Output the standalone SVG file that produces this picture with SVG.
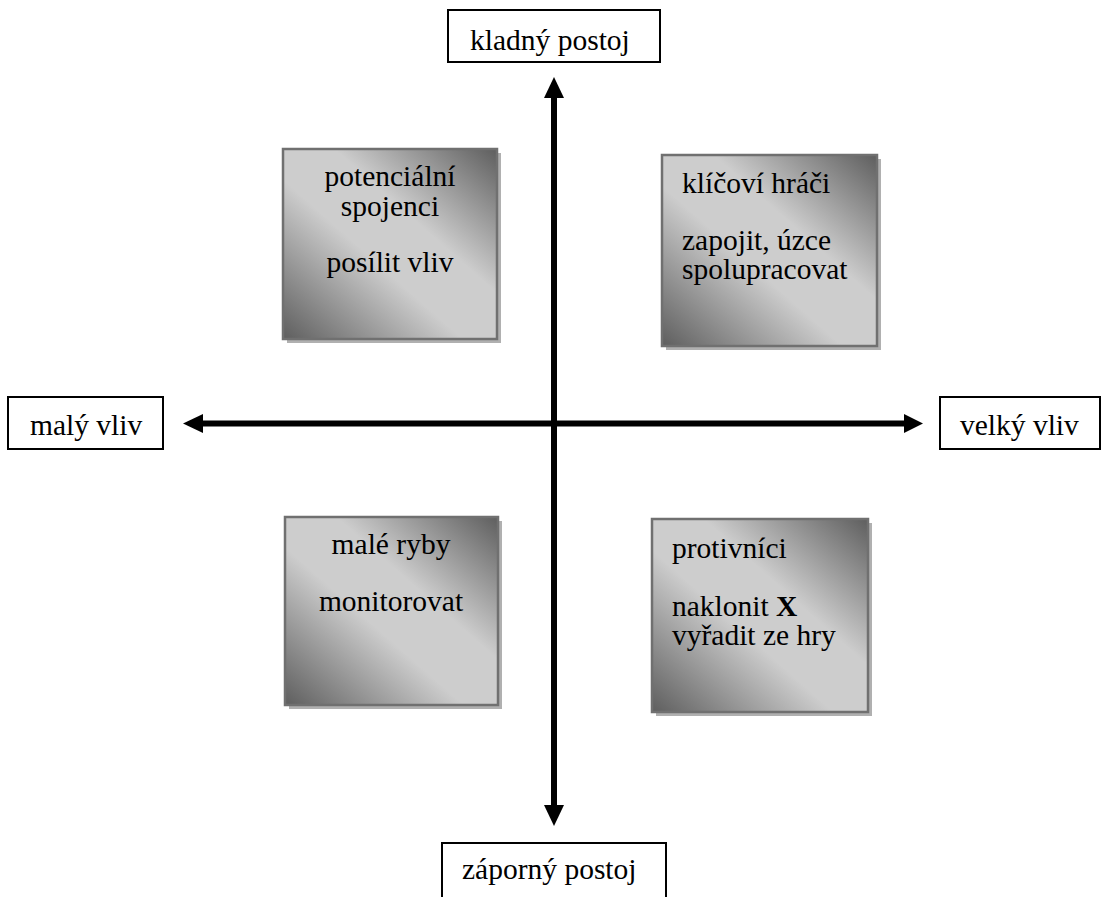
<svg xmlns="http://www.w3.org/2000/svg" width="1101" height="897" viewBox="0 0 1101 897">
<defs>
<linearGradient id="g" x1="0" y1="1" x2="1" y2="0">
<stop offset="0" stop-color="#5e5e5e"/>
<stop offset="0.42" stop-color="#cdcdcd"/>
<stop offset="0.62" stop-color="#cdcdcd"/>
<stop offset="1" stop-color="#5e5e5e"/>
</linearGradient>
</defs>
<style>
text{font-size:29.5px;fill:#000}
.lab{fill:#fff;stroke:#000;stroke-width:2}
.q{fill:url(#g);stroke:#707070;stroke-width:2.5}
.sh{fill:#b0b0b0}
.ax{stroke:#000;stroke-width:6;fill:none}
.hd{fill:#000}
.c{text-anchor:middle}
</style>
<g id="connectors">
<line class="ax" x1="554" y1="95" x2="554" y2="808"/>
<polygon class="hd" points="554,77 544,98 564,98"/>
<polygon class="hd" points="554,826 544,805 564,805"/>
<line class="ax" x1="200" y1="423.5" x2="906" y2="423.5"/>
<polygon class="hd" points="183,423.5 203,414 203,433"/>
<polygon class="hd" points="923,423.5 904,414 904,433"/>
</g>
<g font-family="'Liberation Serif', 'Times New Roman', serif">
<g id="n-top">
<rect class="lab" x="448" y="10" width="212" height="52"/>
<text x="470" y="50">kladný postoj</text>
</g>
<g id="n-bottom">
<rect class="lab" x="442" y="843" width="224" height="70"/>
<text x="462" y="879">záporný postoj</text>
</g>
<g id="n-left">
<rect class="lab" x="8" y="397" width="155" height="52"/>
<text x="30" y="435">malý vliv</text>
</g>
<g id="n-right">
<rect class="lab" x="940" y="397" width="160" height="52"/>
<text x="960" y="435">velký vliv</text>
</g>
<g id="q1">
<rect class="sh" x="287" y="153" width="214" height="190"/>
<rect class="q" x="283" y="149" width="214" height="190"/>
<text class="c" x="390" y="186">potenciální</text>
<text class="c" x="390" y="216">spojenci</text>
<text class="c" x="390" y="272">posílit vliv</text>
</g>
<g id="q2">
<rect class="sh" x="666" y="159" width="215" height="191"/>
<rect class="q" x="662" y="155" width="215" height="191"/>
<text x="682" y="193">klíčoví hráči</text>
<text x="682" y="250">zapojit, úzce</text>
<text x="682" y="279">spolupracovat</text>
</g>
<g id="q3">
<rect class="sh" x="289" y="521" width="213" height="188"/>
<rect class="q" x="285" y="517" width="213" height="188"/>
<text class="c" x="391" y="554">malé ryby</text>
<text class="c" x="391" y="611">monitorovat</text>
</g>
<g id="q4">
<rect class="sh" x="656" y="523" width="216" height="193"/>
<rect class="q" x="652" y="519" width="216" height="193"/>
<text x="672" y="558">protivníci</text>
<text x="672" y="616">naklonit <tspan font-weight="bold">X</tspan></text>
<text x="672" y="645">vyřadit ze hry</text>
</g>
</g>
</svg>
